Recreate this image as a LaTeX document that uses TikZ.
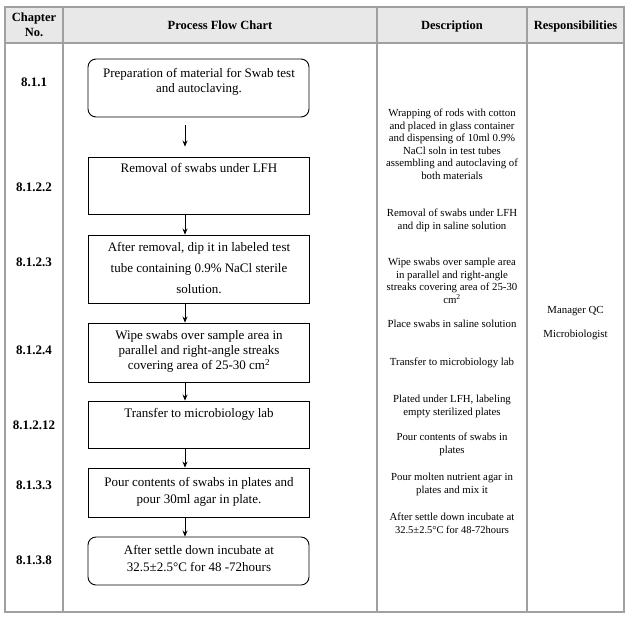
\documentclass[tikz,border=0pt]{standalone}
\usepackage{fontspec}
\setmainfont{Liberation Serif}
\usetikzlibrary{arrows.meta}
\definecolor{tablegray}{HTML}{A0A0A0}
\definecolor{hdrfill}{HTML}{E8E8E8}
\tikzset{
  tline/.style={draw=tablegray, line width=1.2pt},
  box/.style={draw=black, line width=0.9pt, minimum width=221pt, inner sep=0pt},
  rbox/.style={box, rounded corners=8pt},
  btext/.style={font=\fontsize{13}{15}\selectfont, align=center, inner sep=0pt, anchor=north},
  desc/.style={font=\fontsize{10.8}{12.5}\selectfont, align=center, inner sep=0pt, anchor=north},
  chap/.style={font=\bfseries\fontsize{13}{15}\selectfont, inner sep=0pt},
  hdr/.style={font=\bfseries\fontsize{12.5}{15}\selectfont, align=center, inner sep=0pt},
  resp/.style={font=\fontsize{10.8}{12.5}\selectfont, inner sep=0pt, anchor=base},
  arr/.style={-{Stealth[length=6pt,width=5pt]}, line width=0.8pt},
}
\begin{document}
\begin{tikzpicture}[x=1pt,y=-1pt]
\useasboundingbox (0,0) rectangle (640,625);
% table
\fill[hdrfill] (5,7) rectangle (624,43);
\draw[tline] (5,7) rectangle (624,612);
\draw[tline] (5,43) -- (624,43);
\draw[tline] (63,7) -- (63,612);
\draw[tline] (377,7) -- (377,612);
\draw[tline] (527,7) -- (527,612);
% header
\node[hdr, anchor=north] (h1) at (34,13) {Chapter\\No.};
\node[hdr, anchor=base] (h2) at (220,29.5) {Process Flow Chart};
\node[hdr, anchor=base] (h3) at (452,29.5) {Description};
\node[hdr, anchor=base] (h4) at (575.5,29.5) {Responsibilities};
% chapter numbers
\node[chap] (c1) at (34,82) {8.1.1};
\node[chap] (c2) at (34,187) {8.1.2.2};
\node[chap] (c3) at (34,262) {8.1.2.3};
\node[chap] (c4) at (34,350) {8.1.2.4};
\node[chap] (c5) at (34,425) {8.1.2.12};
\node[chap] (c6) at (34,485) {8.1.3.3};
\node[chap] (c7) at (34,560) {8.1.3.8};
% boxes
\node[rbox, minimum height=58pt] (b1) at (198.5,88) {};
\node[box, minimum height=57pt] (b2) at (198.5,185.5) {};
\node[box, minimum height=68pt] (b3) at (198.5,269) {};
\node[box, minimum height=59pt] (b4) at (198.5,352.5) {};
\node[box, minimum height=47pt] (b5) at (198.5,424.5) {};
\node[box, minimum height=49pt] (b6) at (198.5,492.5) {};
\node[rbox, minimum height=48pt] (b7) at (198.5,561) {};
% box texts
\node[btext] (t1) at (199,68.5) {Preparation of material for Swab test\\and autoclaving.};
\node[btext] (t2) at (199,163.5) {Removal of swabs under LFH};
\node[btext, font=\fontsize{13}{21}\selectfont] (t3) at (199,242.5) {After removal, dip it in labeled test\\tube containing 0.9\% NaCl sterile\\solution.};
\node[btext] (t4) at (199,330.5) {Wipe swabs over sample area in\\parallel and right-angle streaks\\covering area of 25-30 cm\textsuperscript{2}};
\node[btext] (t5) at (199,408.5) {Transfer to microbiology lab};
\node[btext, font=\fontsize{13}{17}\selectfont] (t6) at (199,477.5) {Pour contents of swabs in plates and\\pour 30ml agar in plate.};
\node[btext, font=\fontsize{13}{17}\selectfont] (t7) at (199,545.5) {After settle down incubate at\\32.5±2.5°C for 48 -72hours};
% arrows
\coordinate (ax) at (185,0);
\draw[arr, shorten <=8pt, shorten >=10pt] (b1.south -| ax) -- (b2.north -| ax);
\draw[arr] (b2.south -| ax) -- (b3.north -| ax);
\draw[arr] (b3.south -| ax) -- (b4.north -| ax);
\draw[arr] (b4.south -| ax) -- (b5.north -| ax);
\draw[arr] (b5.south -| ax) -- (b6.north -| ax);
\draw[arr] (b6.south -| ax) -- (b7.north -| ax);
% descriptions
\node[desc] (d1) at (452,109) {Wrapping of rods with cotton\\and placed in glass container\\and dispensing of 10ml 0.9\%\\NaCl soln in test tubes\\assembling and autoclaving of\\both materials};
\node[desc] (d2) at (452,209) {Removal of swabs under LFH\\and dip in saline solution};
\node[desc] (d3) at (452,258) {Wipe swabs over sample area\\in parallel and right-angle\\streaks covering area of 25-30\\cm\textsuperscript{2}};
\node[desc] (d4) at (452,320) {Place swabs in saline solution};
\node[desc] (d5) at (452,358) {Transfer to microbiology lab};
\node[desc] (d6) at (452,395) {Plated under LFH, labeling\\empty sterilized plates};
\node[desc] (d7) at (452,433) {Pour contents of swabs in\\plates};
\node[desc] (d8) at (452,473) {Pour molten nutrient agar in\\plates and mix it};
\node[desc] (d9) at (452,513) {After settle down incubate at\\{\fontsize{10.5}{11}\selectfont 32.5±2.5°C for 48-72hours}};
% responsibilities
\node[resp] (r1) at (575.5,313) {Manager QC};
\node[resp] (r2) at (575.5,337) {Microbiologist};
\end{tikzpicture}
\end{document}
